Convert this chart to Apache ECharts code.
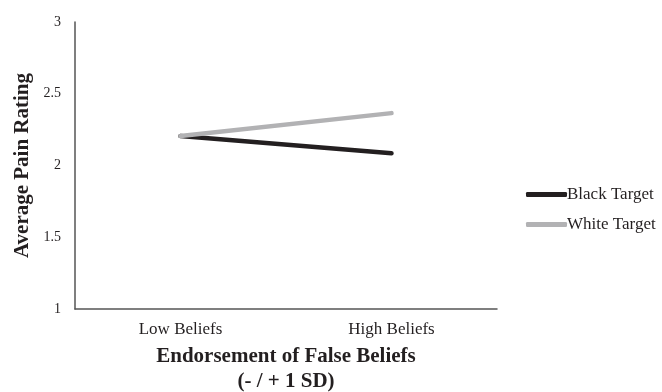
<!DOCTYPE html>
<html><head><meta charset="utf-8">
<script src="https://cdn.jsdelivr.net/npm/echarts@6/dist/echarts.min.js"></script>
<style>html,body{margin:0;padding:0;background:#fff}#c{width:662px;height:392px}</style>
</head><body><div id="c"></div>
<script>
const categories = ['Low Beliefs', 'High Beliefs'];
const blackTarget = [2.205, 2.085];
const whiteTarget = [2.205, 2.365];
const yTicks = [1, 1.5, 2, 2.5, 3];

const font = '"Liberation Serif", "Times New Roman", serif';
const chart = echarts.init(document.getElementById('c'));
chart.setOption({
  backgroundColor: '#fff',
  animation: false,
  textStyle: { fontFamily: font },
  grid: { left: 75, right: 165, top: 22, bottom: 83, containLabel: false, outerBoundsMode: 'none' },
  xAxis: {
    type: 'category', data: categories, boundaryGap: true,
    axisLine: { lineStyle: { color: '#555', width: 1.5 } },
    axisTick: { show: false },
    axisLabel: { color: '#231f20', fontSize: 17, fontFamily: font, margin: 12 },
    name: 'Endorsement of False Beliefs\n(- / + 1 SD)', nameLocation: 'middle', nameGap: 35,
    nameTextStyle: { color: '#231f20', fontSize: 21, fontWeight: 'bold', fontFamily: font, lineHeight: 25 }
  },
  yAxis: {
    type: 'value', min: yTicks[0], max: yTicks[yTicks.length - 1], interval: 0.5,
    axisLine: { show: true, lineStyle: { color: '#555', width: 1.5 } },
    axisTick: { show: false }, splitLine: { show: false },
    axisLabel: { color: '#231f20', fontSize: 14, fontFamily: font, margin: 14 },
    name: 'Average Pain Rating', nameLocation: 'middle', nameGap: 41, nameRotate: 90,
    nameTextStyle: { color: '#231f20', fontSize: 21, fontWeight: 'bold', fontFamily: font }
  },
  legend: {
    orient: 'vertical', left: 526, top: 186, itemGap: 13, padding: 0,
    itemWidth: 41, itemHeight: 5, icon: 'roundRect',
    textStyle: { color: '#231f20', fontSize: 17, fontFamily: font, padding: [0, 0, 0, -5] },
    data: ['Black Target', 'White Target']
  },
  series: [
    { name: 'Black Target', type: 'line', data: blackTarget, symbol: 'none',
      lineStyle: { color: '#231f20', width: 4.5, cap: 'round' }, itemStyle: { color: '#231f20' } },
    { name: 'White Target', type: 'line', data: whiteTarget, symbol: 'none',
      lineStyle: { color: '#b2b2b4', width: 4.5, cap: 'round' }, itemStyle: { color: '#b2b2b4' } }
  ]
});
</script></body></html>
